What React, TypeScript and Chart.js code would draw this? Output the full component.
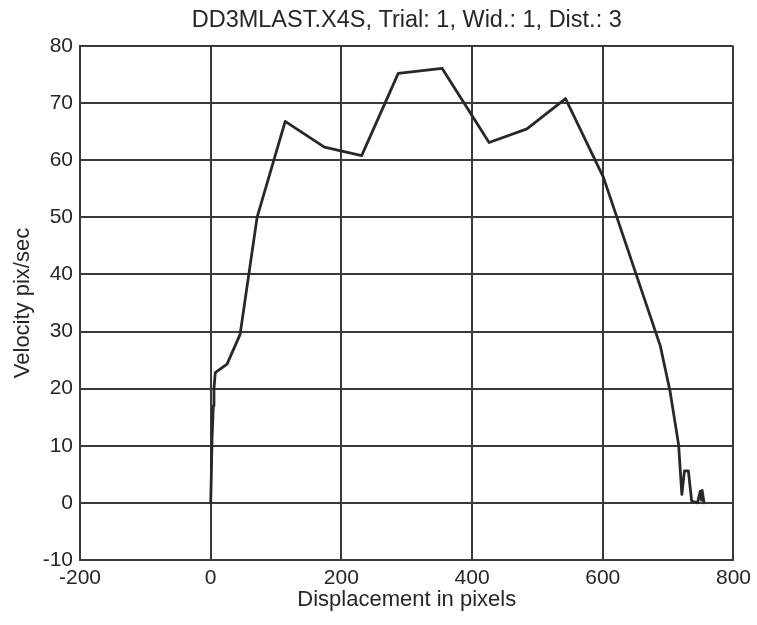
import React, { useEffect, useRef } from "react";
import { Chart, registerables } from "chart.js";

Chart.register(...registerables);

const chartTitle = "DD3MLAST.X4S, Trial: 1, Wid.: 1, Dist.: 3";
const xAxisTitle = "Displacement in pixels";
const yAxisTitle = "Velocity pix/sec";

const displacement = [
  0, 1, 2, 4, 5, 7, 25, 45, 71, 114, 174, 231, 287, 354, 426, 484, 543, 601,
  688, 703, 716, 721, 725, 731, 736, 745, 749, 751, 752, 755,
];
const velocity = [
  0, 5, 11, 17, 20, 22.8, 24.3, 29.5, 50, 66.8, 62.3, 60.8, 75.2, 76.1, 63.1,
  65.5, 70.8, 57, 27.5, 19.5, 10.2, 1.5, 5.6, 5.6, 0.3, 0, 2, 0.5, 2.2, 0,
];

const xMin = -200;
const xMax = 800;
const xStep = 200;
const yMin = -10;
const yMax = 80;
const yStep = 10;

const FONT = "'Liberation Sans', Arial, sans-serif";
const INK = "#262626";
const GRID = "#3a3a3a";

export default function App() {
  const ref = useRef<HTMLCanvasElement | null>(null);

  useEffect(() => {
    if (!ref.current) return;
    const titlePlugin = {
      id: "topTitle",
      afterDraw(chart: any) {
        const { ctx, chartArea } = chart;
        ctx.save();
        ctx.fillStyle = INK;
        ctx.font = `23.5px ${FONT}`;
        ctx.textAlign = "center";
        ctx.textBaseline = "middle";
        ctx.fillText(chartTitle, (chartArea.left + chartArea.right) / 2, 21);
        ctx.restore();
      },
    };
    const chart = new Chart(ref.current, {
      type: "scatter",
      data: {
        datasets: [
          {
            data: displacement.map((x, i) => ({ x, y: velocity[i] })),
            showLine: true,
            borderColor: "#282828",
            borderWidth: 2.8,
            borderJoinStyle: "round",
            borderCapStyle: "round",
            pointRadius: 0,
            tension: 0,
            fill: false,
          },
        ],
      },
      options: {
        responsive: false,
        animation: false,
        layout: { padding: { top: 46, right: 23, left: 0, bottom: 0 } },
        plugins: {
          legend: { display: false },
          tooltip: { enabled: false },
          title: { display: false },
        },
        scales: {
          x: {
            type: "linear",
            min: xMin,
            max: xMax,
            afterFit: (s: any) => {
              s.height = 65;
            },
            ticks: {
              stepSize: xStep,
              padding: 6,
              color: INK,
              font: { family: FONT, size: 21 },
              maxRotation: 0,
              autoSkip: false,
            },
            grid: { color: GRID, lineWidth: 2, drawTicks: false },
            border: { display: true, color: GRID, width: 2 },
            title: {
              display: true,
              text: xAxisTitle,
              color: INK,
              font: { family: FONT, size: 22 },
              padding: { top: 0, bottom: 12 },
            },
          },
          y: {
            type: "linear",
            min: yMin,
            max: yMax,
            afterFit: (s: any) => {
              s.width = 80;
            },
            ticks: {
              stepSize: yStep,
              padding: 7,
              color: INK,
              font: { family: FONT, size: 21 },
              autoSkip: false,
            },
            grid: { color: GRID, lineWidth: 2, drawTicks: false },
            border: { display: true, color: GRID, width: 2 },
            title: {
              display: true,
              text: yAxisTitle,
              color: INK,
              font: { family: FONT, size: 22 },
              padding: { top: 10, bottom: 0 },
            },
          },
        },
      },
      plugins: [titlePlugin],
    });
    return () => chart.destroy();
  }, []);

  return (
    <canvas
      ref={ref}
      width={757}
      height={625}
      style={{ position: "absolute", left: 0, top: 0, display: "block" }}
    />
  );
}
